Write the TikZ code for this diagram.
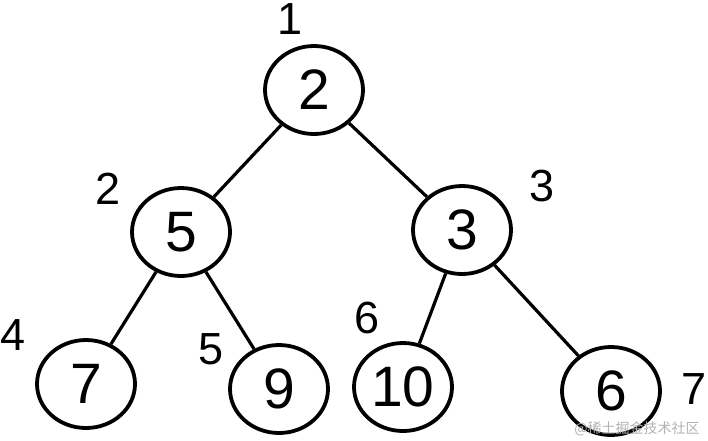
\documentclass[tikz,border=0pt]{standalone}
\usepackage{fontspec}
\setmainfont{Liberation Sans}
\newfontfamily\cjk{Noto Sans CJK SC}
\usetikzlibrary{shapes.geometric}
\tikzset{
  heapnode/.style={ellipse, draw=black, line width=3.8pt, minimum width=98pt, minimum height=88pt, inner sep=0pt, font=\fontsize{57}{57}\selectfont},
  idxlabel/.style={font=\fontsize{45}{45}\selectfont, inner sep=0pt},
  edge/.style={line width=3.2pt}
}
\begin{document}
\begin{tikzpicture}[x=1pt,y=-1pt]
\useasboundingbox (0,0) rectangle (708,440);
\node[heapnode] (n1) at (314,90) {2};
\node[heapnode] (n2) at (181,232) {5};
\node[heapnode] (n3) at (462,230) {3};
\node[heapnode] (n4) at (86,384) {7};
\node[heapnode] (n5) at (279,389) {9};
\node[heapnode] (n6) at (403,387) {10};
\node[heapnode] (n7) at (611,391) {6};
\node[idxlabel] (l1) at (290,19) {1};
\node[idxlabel] (l2) at (108,189) {2};
\node[idxlabel] (l3) at (542,186) {3};
\node[idxlabel] (l4) at (13,335) {4};
\node[idxlabel] (l5) at (211,349) {5};
\node[idxlabel] (l6) at (367,318) {6};
\node[idxlabel] (l7) at (694,389) {7};
\draw[edge] (n1) -- (n2);
\draw[edge] (n1) -- (n3);
\draw[edge] (n2) -- (n4);
\draw[edge] (n2) -- (n5);
\draw[edge] (n3) -- (n6);
\draw[edge] (n3) -- (n7);
\node[text=black!30, font=\cjk\fontsize{14}{14}\selectfont, inner sep=0pt] (wm) at (637,429) {@稀土掘金技术社区};
\end{tikzpicture}
\end{document}
